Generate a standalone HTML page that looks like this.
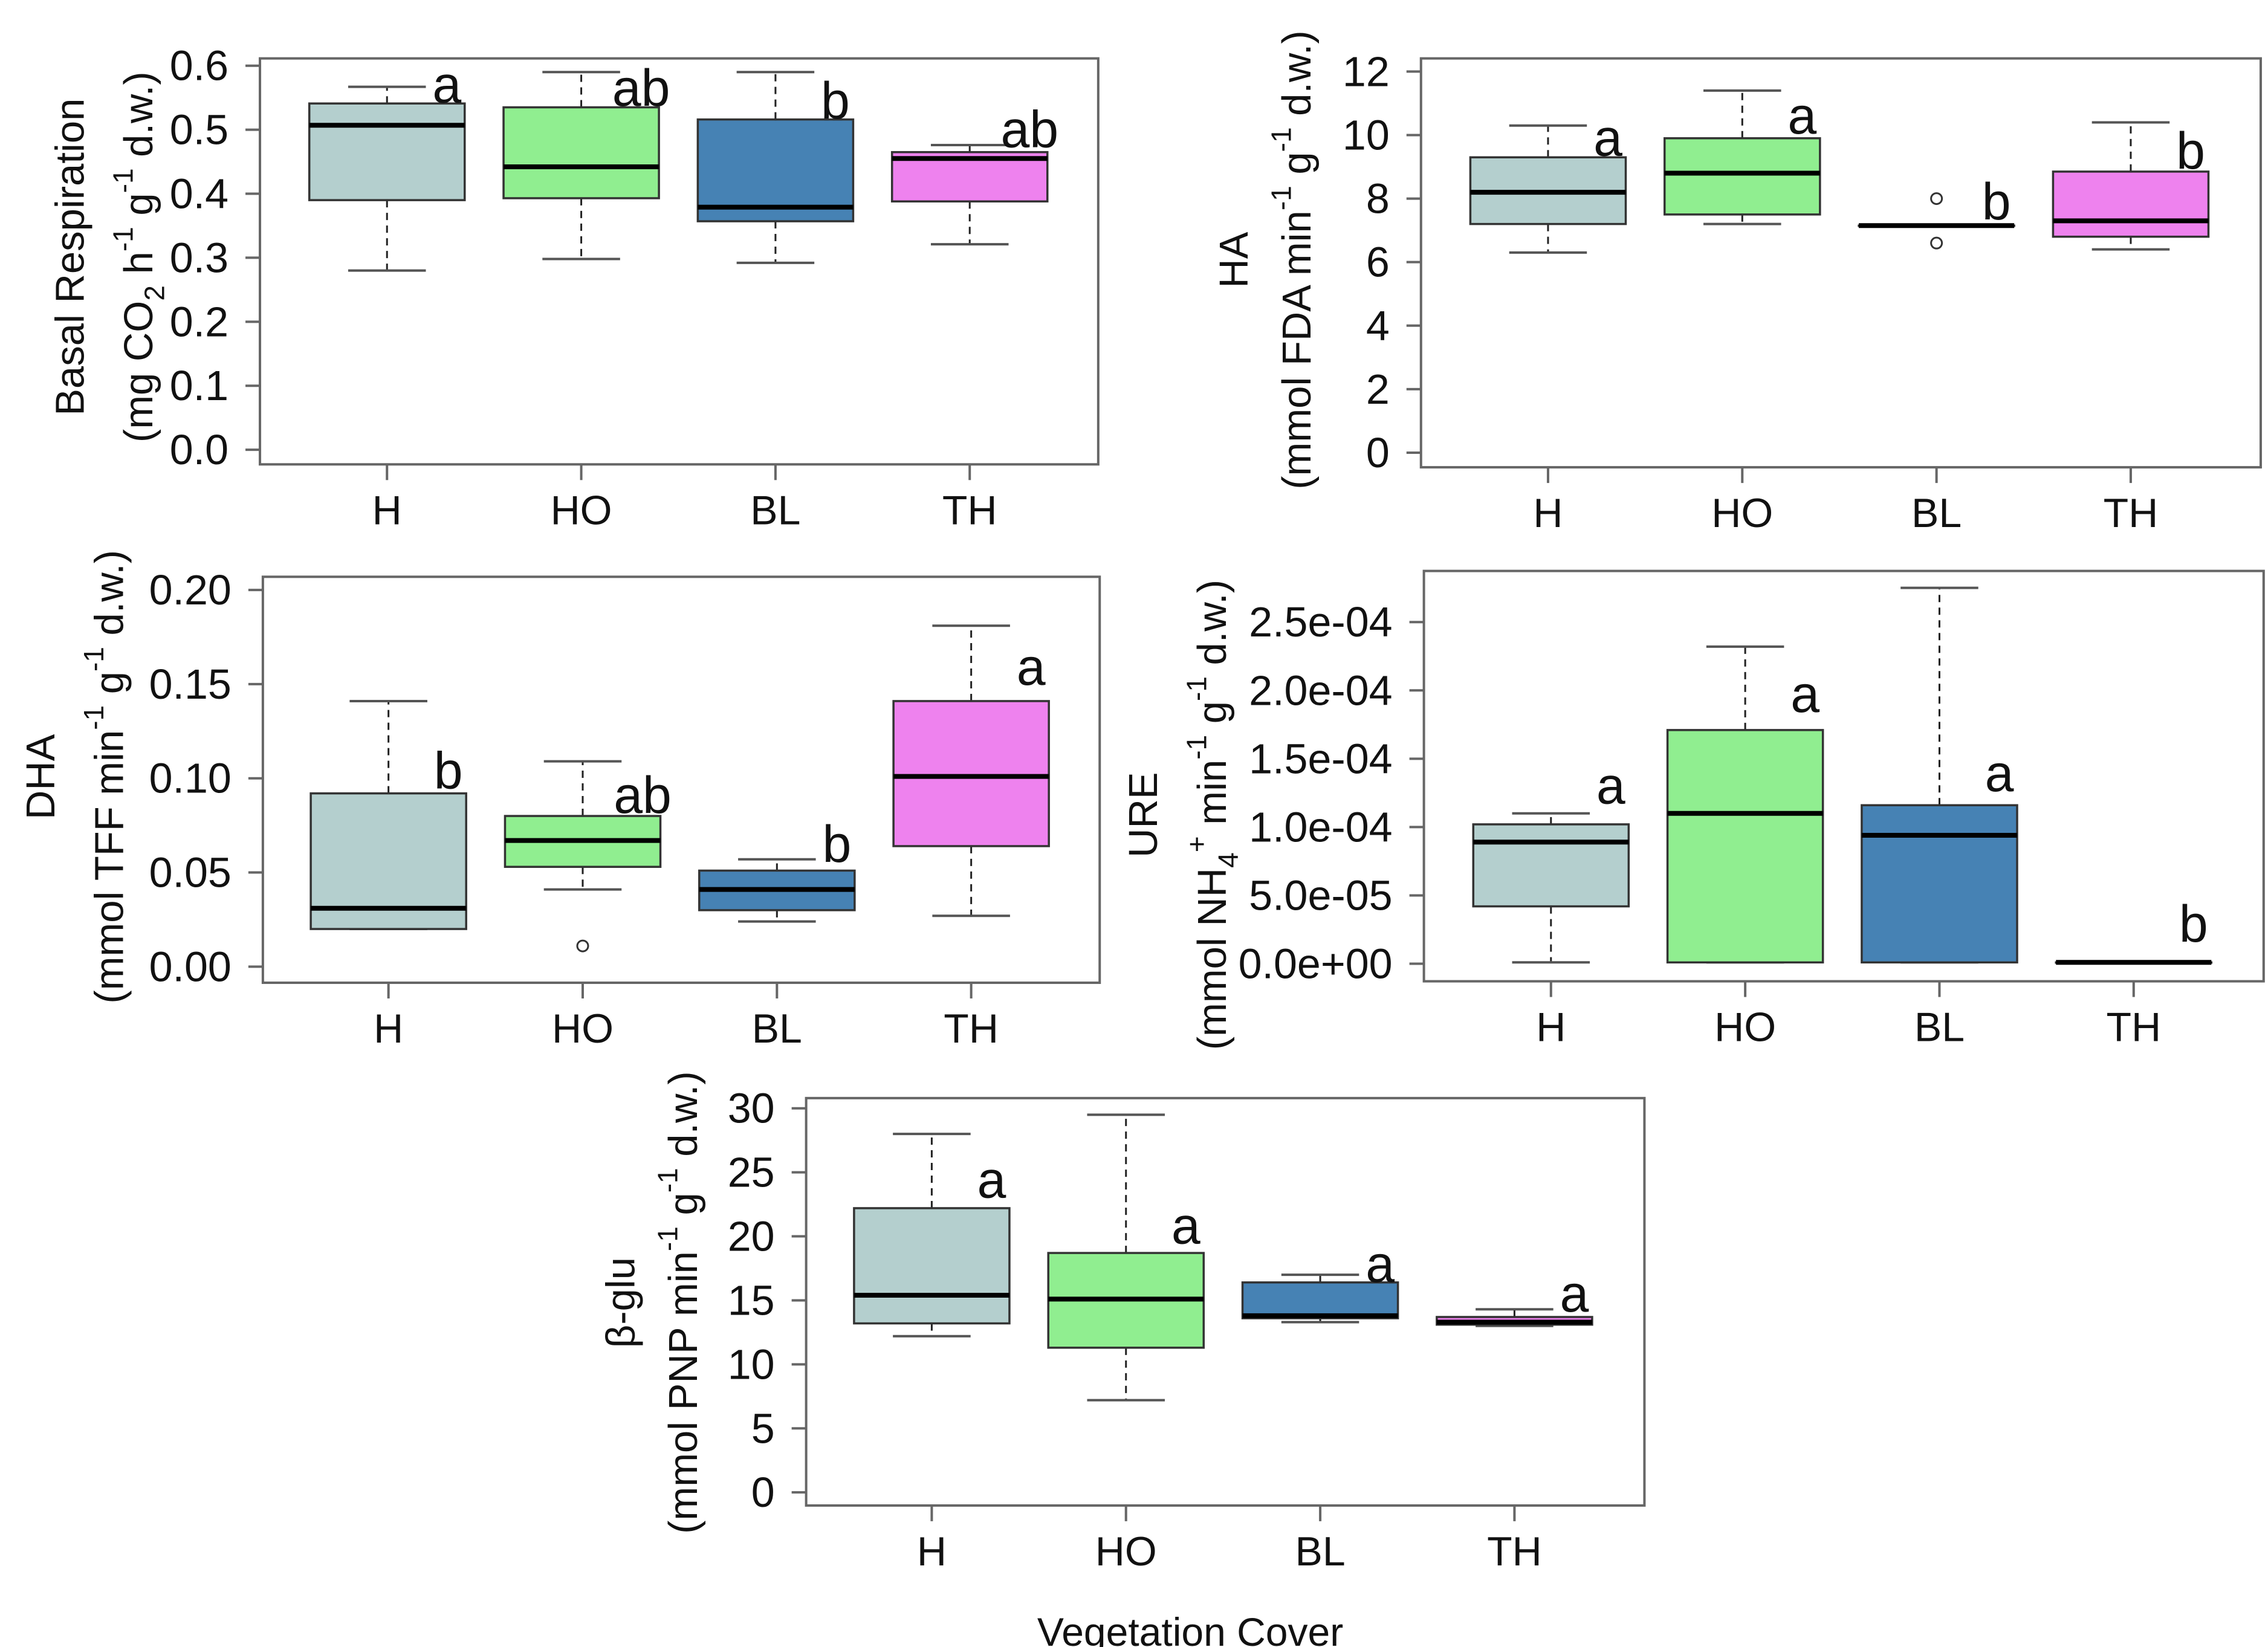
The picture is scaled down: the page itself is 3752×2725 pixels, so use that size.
<!DOCTYPE html>
<html><head><meta charset="utf-8">
<style>
html,body{margin:0;padding:0;background:#fff;}
svg{display:block;font-family:"Liberation Sans",Arial,sans-serif;}
</style></head>
<body>
<svg id="fig" width="3752" height="2725" viewBox="0 0 3752 2725" xmlns="http://www.w3.org/2000/svg">
<rect x="0" y="0" width="3752" height="2725" fill="#fff"/>
<text x="1969" y="2700" font-size="66" text-anchor="middle" dominant-baseline="central" fill="#111">Vegetation Cover</text>
</svg>
<script>
const categories = ["H","HO","BL","TH"];
const colors = ["#b4cfce","#90ee90","#4682b4","#ee82ee"];

// Basal respiration
const brLow  = [0.280,0.298,0.292,0.321];
const brQ1   = [0.390,0.393,0.357,0.388];
const brMed  = [0.507,0.442,0.379,0.455];
const brQ3   = [0.541,0.535,0.516,0.465];
const brHigh = [0.567,0.590,0.590,0.476];
const brLetters = ["a","ab","b","ab"];
const brLetterY = [0.570,0.565,0.545,0.500];
const brTicks = [0,0.1,0.2,0.3,0.4,0.5,0.6];
const brTickLabels = ["0.0","0.1","0.2","0.3","0.4","0.5","0.6"];

// HA
const haLow  = [6.3,7.2,7.15,6.4];
const haQ1   = [7.2,7.5,7.15,6.8];
const haMed  = [8.2,8.8,7.15,7.3];
const haQ3   = [9.3,9.9,7.15,8.85];
const haHigh = [10.3,11.4,7.15,10.4];
const haOutCat = [2,2];
const haOutVal = [8.0,6.6];
const haLetters = ["a","a","b","b"];
const haLetterY = [9.9,10.6,7.9,9.5];
const haTicks = [0,2,4,6,8,10,12];
const haTickLabels = ["0","2","4","6","8","10","12"];

// DHA
const dhaLow  = [0.020,0.041,0.024,0.027];
const dhaQ1   = [0.020,0.053,0.030,0.064];
const dhaMed  = [0.031,0.067,0.041,0.101];
const dhaQ3   = [0.092,0.080,0.051,0.141];
const dhaHigh = [0.141,0.109,0.057,0.181];
const dhaOutCat = [1];
const dhaOutVal = [0.011];
const dhaLetters = ["b","ab","b","a"];
const dhaLetterY = [0.104,0.091,0.065,0.159];
const dhaTicks = [0,0.05,0.10,0.15,0.20];
const dhaTickLabels = ["0.00","0.05","0.10","0.15","0.20"];

// URE
const ureLow  = [0.1e-5,0.1e-5,0.1e-5,0.1e-5];
const ureQ1   = [4.2e-5,0.1e-5,0.1e-5,0.1e-5];
const ureMed  = [8.9e-5,11.0e-5,9.4e-5,0.1e-5];
const ureQ3   = [10.2e-5,17.1e-5,11.6e-5,0.1e-5];
const ureHigh = [11.0e-5,23.2e-5,27.5e-5,0.1e-5];
const ureLetters = ["a","a","a","b"];
const ureLetterY = [13e-5,19.7e-5,13.9e-5,2.9e-5];
const ureTicks = [0,5e-5,10e-5,15e-5,20e-5,25e-5];
const ureTickLabels = ["0.0e+00","5.0e-05","1.0e-04","1.5e-04","2.0e-04","2.5e-04"];

// beta-glu
const bgLow  = [12.2,7.2,13.3,13.0];
const bgQ1   = [13.2,11.3,13.6,13.1];
const bgMed  = [15.4,15.1,13.8,13.3];
const bgQ3   = [22.2,18.7,16.4,13.7];
const bgHigh = [28.0,29.5,17.0,14.3];
const bgLetters = ["a","a","a","a"];
const bgLetterY = [24.4,20.8,17.8,15.5];
const bgTicks = [0,5,10,15,20,25,30];
const bgTickLabels = ["0","5","10","15","20","25","30"];

const S = 2.416;
const NS = "http://www.w3.org/2000/svg";
const svg = document.getElementById("fig");
function mk(tag, attrs, parent){
  const e = document.createElementNS(NS, tag);
  for (const k in attrs) e.setAttribute(k, attrs[k]);
  (parent||svg).appendChild(e);
  return e;
}

function panel(cfg){
  const g = mk("g", {});
  
  
  const L=cfg.box[0]*S, T=cfg.box[1]*S, R=cfg.box[2]*S, B=cfg.box[3]*S;
  const y0=cfg.y0*S, yt=cfg.yTopPix*S;
  const yPix = v => y0 + (v/cfg.yTopVal)*(yt-y0);
  const xPix = i => (cfg.cat0 + i*133)*S;
  const hw = 0.4*133*S;

  const fr = mk("rect",{x:L,y:T,width:R-L,height:B-T,fill:"none",stroke:"#666","stroke-width":4},g);
  
  

  cfg.ticks.forEach((t,k)=>{
    const y=yPix(t);
    const tl = mk("line",{x1:L,x2:L-24,y1:y,y2:y,stroke:"#666","stroke-width":4},g);
    
    
    const tx = mk("text",{x:L-52,y:y,"font-size":70,"text-anchor":"end","dominant-baseline":"central",fill:"#111"},g);
    tx.textContent = cfg.tickLabels[k];
    
    
  });

  categories.forEach((c,i)=>{
    const x=xPix(i);
    const xt = mk("line",{x1:x,x2:x,y1:B,y2:B+26,stroke:"#666","stroke-width":4},g);
    
    
    const xl = mk("text",{x:x,y:B+76,"font-size":68,"text-anchor":"middle","dominant-baseline":"central",fill:"#111"},g);
    xl.textContent = c;
    
    

    const lo=yPix(cfg.low[i]), q1=yPix(cfg.q1[i]), md=yPix(cfg.med[i]), q3=yPix(cfg.q3[i]), hi=yPix(cfg.high[i]);
    const wk = mk("line",{x1:x,x2:x,y1:q1,y2:lo,stroke:"#222","stroke-width":3,"stroke-dasharray":"12,9"},g);
    
    
    const wk2 = mk("line",{x1:x,x2:x,y1:q3,y2:hi,stroke:"#222","stroke-width":3,"stroke-dasharray":"12,9"},g);
    
    
    const c1 = mk("line",{x1:x-hw/2,x2:x+hw/2,y1:lo,y2:lo,stroke:"#555","stroke-width":4},g);
    
    
    const c2 = mk("line",{x1:x-hw/2,x2:x+hw/2,y1:hi,y2:hi,stroke:"#555","stroke-width":4},g);
    
    
    const bx = mk("rect",{x:x-hw,y:q3,width:2*hw,height:Math.max(q1-q3,0.5),fill:colors[i],stroke:"#333","stroke-width":3.5},g);
    
    
    const ml = mk("line",{x1:x-hw,x2:x+hw,y1:md,y2:md,stroke:"#000","stroke-width":8},g);
    
    
    const lt = mk("text",{x:x+41*S,y:yPix(cfg.letterY[i]),"font-size":86,"text-anchor":"middle","dominant-baseline":"central",fill:"#111"},g);
    lt.textContent = cfg.letters[i];
    
    
  });
  (cfg.outCat||[]).forEach((ci,k)=>{
    const o = mk("circle",{cx:xPix(ci),cy:yPix(cfg.outVal[k]),r:9,fill:"none",stroke:"#333","stroke-width":3},g);
    
    
  });

  const t1x=cfg.t1x*S, t2x=cfg.t2x*S, ty=cfg.ty*S;
  const a = mk("text",{x:t1x,y:ty,"font-size":67,"text-anchor":"middle","dominant-baseline":"central",fill:"#111",transform:`rotate(-90 ${t1x} ${ty})`},g);
  a.textContent = cfg.title1;
  
  
  const b = mk("text",{x:t2x,y:ty,"font-size":67,"text-anchor":"middle","dominant-baseline":"central",fill:"#111",transform:`rotate(-90 ${t2x} ${ty})`},g);
  b.innerHTML = cfg.title2;
  
  
}
const sup = s => `<tspan baseline-shift="super" font-size="46">${s}</tspan>`;
const sub = s => `<tspan baseline-shift="sub" font-size="46">${s}</tspan>`;

panel({name:"basal-respiration-panel",box:[178,40,752,318],y0:308,yTopPix:45,yTopVal:0.6,cat0:265,
  low:brLow,q1:brQ1,med:brMed,q3:brQ3,high:brHigh,letters:brLetters,letterY:brLetterY,ticks:brTicks,tickLabels:brTickLabels,
  t1x:48,t2x:95,ty:176,title1:"Basal Respiration",title2:`(mg CO${sub("2")} h${sup("-1")} g${sup("-1")} d.w.)`});
panel({name:"ha-panel",box:[973,40,1548,320],y0:310,yTopPix:49,yTopVal:12,cat0:1060,
  low:haLow,q1:haQ1,med:haMed,q3:haQ3,high:haHigh,outCat:haOutCat,outVal:haOutVal,letters:haLetters,letterY:haLetterY,ticks:haTicks,tickLabels:haTickLabels,
  t1x:845,t2x:888,ty:178,title1:"HA",title2:`(mmol FDA min${sup("-1")} g${sup("-1")} d.w.)`});
panel({name:"dha-panel",box:[180,395,753,673],y0:662,yTopPix:404,yTopVal:0.2,cat0:266,
  low:dhaLow,q1:dhaQ1,med:dhaMed,q3:dhaQ3,high:dhaHigh,outCat:dhaOutCat,outVal:dhaOutVal,letters:dhaLetters,letterY:dhaLetterY,ticks:dhaTicks,tickLabels:dhaTickLabels,
  t1x:28,t2x:75,ty:532,title1:"DHA",title2:`(mmol TFF min${sup("-1")} g${sup("-1")} d.w.)`});
panel({name:"ure-panel",box:[975,391,1550,672],y0:660,yTopPix:426,yTopVal:25e-5,cat0:1062,
  low:ureLow,q1:ureQ1,med:ureMed,q3:ureQ3,high:ureHigh,letters:ureLetters,letterY:ureLetterY,ticks:ureTicks,tickLabels:ureTickLabels,
  t1x:783,t2x:830,ty:558,title1:"URE",title2:`(mmol NH${sub("4")}${sup("+")} min${sup("-1")} g${sup("-1")} d.w.)`});
panel({name:"beta-glu-panel",box:[552,752,1126,1031],y0:1022,yTopPix:759,yTopVal:30,cat0:638,
  low:bgLow,q1:bgQ1,med:bgMed,q3:bgQ3,high:bgHigh,letters:bgLetters,letterY:bgLetterY,ticks:bgTicks,tickLabels:bgTickLabels,
  t1x:425,t2x:468,ty:892,title1:"β-glu",title2:`(mmol PNP min${sup("-1")} g${sup("-1")} d.w.)`});
</script>
</body></html>
